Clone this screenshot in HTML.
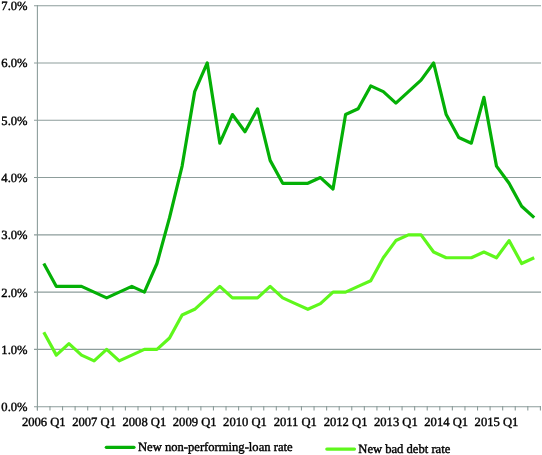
<!DOCTYPE html>
<html><head><meta charset="utf-8"><style>
html,body{margin:0;padding:0;background:#fff;width:542px;height:455px;overflow:hidden;font-family:"Liberation Serif",serif;}
svg{display:block;will-change:transform} text{text-rendering:geometricPrecision;stroke:#000;stroke-width:0.4px}
</style></head><body>
<svg width="542" height="455" viewBox="0 0 542 455">
<line x1="34" y1="349.41" x2="541" y2="349.41" stroke="#8d9d9b" stroke-width="1.1"/>
<line x1="34" y1="292.13" x2="541" y2="292.13" stroke="#8d9d9b" stroke-width="1.1"/>
<line x1="34" y1="234.84" x2="541" y2="234.84" stroke="#8d9d9b" stroke-width="1.1"/>
<line x1="34" y1="177.56" x2="541" y2="177.56" stroke="#8d9d9b" stroke-width="1.1"/>
<line x1="34" y1="120.27" x2="541" y2="120.27" stroke="#8d9d9b" stroke-width="1.1"/>
<line x1="34" y1="62.98" x2="541" y2="62.98" stroke="#8d9d9b" stroke-width="1.1"/>
<line x1="34" y1="5.7" x2="541" y2="5.7" stroke="#8d9d9b" stroke-width="1.1"/>
<line x1="37.4" y1="5" x2="37.4" y2="410.5" stroke="#8d9d9b" stroke-width="1.1"/>
<line x1="34" y1="406.7" x2="541" y2="406.7" stroke="#8d9d9b" stroke-width="1.1"/>
<line x1="37.40" y1="406" x2="37.40" y2="410.5" stroke="#8d9d9b" stroke-width="1.1"/>
<line x1="49.97" y1="406" x2="49.97" y2="410.5" stroke="#8d9d9b" stroke-width="1.1"/>
<line x1="62.55" y1="406" x2="62.55" y2="410.5" stroke="#8d9d9b" stroke-width="1.1"/>
<line x1="75.12" y1="406" x2="75.12" y2="410.5" stroke="#8d9d9b" stroke-width="1.1"/>
<line x1="87.70" y1="406" x2="87.70" y2="410.5" stroke="#8d9d9b" stroke-width="1.1"/>
<line x1="100.28" y1="406" x2="100.28" y2="410.5" stroke="#8d9d9b" stroke-width="1.1"/>
<line x1="112.85" y1="406" x2="112.85" y2="410.5" stroke="#8d9d9b" stroke-width="1.1"/>
<line x1="125.42" y1="406" x2="125.42" y2="410.5" stroke="#8d9d9b" stroke-width="1.1"/>
<line x1="138.00" y1="406" x2="138.00" y2="410.5" stroke="#8d9d9b" stroke-width="1.1"/>
<line x1="150.57" y1="406" x2="150.57" y2="410.5" stroke="#8d9d9b" stroke-width="1.1"/>
<line x1="163.15" y1="406" x2="163.15" y2="410.5" stroke="#8d9d9b" stroke-width="1.1"/>
<line x1="175.72" y1="406" x2="175.72" y2="410.5" stroke="#8d9d9b" stroke-width="1.1"/>
<line x1="188.30" y1="406" x2="188.30" y2="410.5" stroke="#8d9d9b" stroke-width="1.1"/>
<line x1="200.88" y1="406" x2="200.88" y2="410.5" stroke="#8d9d9b" stroke-width="1.1"/>
<line x1="213.45" y1="406" x2="213.45" y2="410.5" stroke="#8d9d9b" stroke-width="1.1"/>
<line x1="226.03" y1="406" x2="226.03" y2="410.5" stroke="#8d9d9b" stroke-width="1.1"/>
<line x1="238.60" y1="406" x2="238.60" y2="410.5" stroke="#8d9d9b" stroke-width="1.1"/>
<line x1="251.17" y1="406" x2="251.17" y2="410.5" stroke="#8d9d9b" stroke-width="1.1"/>
<line x1="263.75" y1="406" x2="263.75" y2="410.5" stroke="#8d9d9b" stroke-width="1.1"/>
<line x1="276.32" y1="406" x2="276.32" y2="410.5" stroke="#8d9d9b" stroke-width="1.1"/>
<line x1="288.90" y1="406" x2="288.90" y2="410.5" stroke="#8d9d9b" stroke-width="1.1"/>
<line x1="301.47" y1="406" x2="301.47" y2="410.5" stroke="#8d9d9b" stroke-width="1.1"/>
<line x1="314.05" y1="406" x2="314.05" y2="410.5" stroke="#8d9d9b" stroke-width="1.1"/>
<line x1="326.62" y1="406" x2="326.62" y2="410.5" stroke="#8d9d9b" stroke-width="1.1"/>
<line x1="339.20" y1="406" x2="339.20" y2="410.5" stroke="#8d9d9b" stroke-width="1.1"/>
<line x1="351.77" y1="406" x2="351.77" y2="410.5" stroke="#8d9d9b" stroke-width="1.1"/>
<line x1="364.35" y1="406" x2="364.35" y2="410.5" stroke="#8d9d9b" stroke-width="1.1"/>
<line x1="376.92" y1="406" x2="376.92" y2="410.5" stroke="#8d9d9b" stroke-width="1.1"/>
<line x1="389.50" y1="406" x2="389.50" y2="410.5" stroke="#8d9d9b" stroke-width="1.1"/>
<line x1="402.07" y1="406" x2="402.07" y2="410.5" stroke="#8d9d9b" stroke-width="1.1"/>
<line x1="414.65" y1="406" x2="414.65" y2="410.5" stroke="#8d9d9b" stroke-width="1.1"/>
<line x1="427.22" y1="406" x2="427.22" y2="410.5" stroke="#8d9d9b" stroke-width="1.1"/>
<line x1="439.80" y1="406" x2="439.80" y2="410.5" stroke="#8d9d9b" stroke-width="1.1"/>
<line x1="452.37" y1="406" x2="452.37" y2="410.5" stroke="#8d9d9b" stroke-width="1.1"/>
<line x1="464.95" y1="406" x2="464.95" y2="410.5" stroke="#8d9d9b" stroke-width="1.1"/>
<line x1="477.52" y1="406" x2="477.52" y2="410.5" stroke="#8d9d9b" stroke-width="1.1"/>
<line x1="490.10" y1="406" x2="490.10" y2="410.5" stroke="#8d9d9b" stroke-width="1.1"/>
<line x1="502.67" y1="406" x2="502.67" y2="410.5" stroke="#8d9d9b" stroke-width="1.1"/>
<line x1="515.25" y1="406" x2="515.25" y2="410.5" stroke="#8d9d9b" stroke-width="1.1"/>
<line x1="527.82" y1="406" x2="527.82" y2="410.5" stroke="#8d9d9b" stroke-width="1.1"/>
<line x1="540.40" y1="406" x2="540.40" y2="410.5" stroke="#8d9d9b" stroke-width="1.1"/>
<polyline points="43.79,332.23 56.36,355.14 68.94,343.69 81.51,355.14 94.09,360.87 106.66,349.41 119.24,360.87 131.81,355.14 144.39,349.41 156.96,349.41 169.54,337.96 182.11,315.04 194.69,309.31 207.26,297.86 219.84,286.40 232.41,297.86 244.99,297.86 257.56,297.86 270.14,286.40 282.71,297.86 295.29,303.59 307.86,309.31 320.44,303.59 333.01,292.13 345.59,292.13 358.16,286.40 370.74,280.67 383.31,257.76 395.89,240.57 408.46,234.84 421.04,234.84 433.61,252.03 446.19,257.76 458.76,257.76 471.34,257.76 483.91,252.03 496.49,257.76 509.06,240.57 521.64,263.49 534.21,257.76" fill="none" stroke="#5ff71c" stroke-width="3.2" stroke-linejoin="round" stroke-linecap="butt"/>
<polyline points="43.79,263.49 56.36,286.40 68.94,286.40 81.51,286.40 94.09,292.13 106.66,297.86 119.24,292.13 131.81,286.40 144.39,292.13 156.96,263.49 169.54,217.66 182.11,166.10 194.69,91.63 207.26,62.98 219.84,143.18 232.41,114.54 244.99,131.73 257.56,108.81 270.14,160.37 282.71,183.28 295.29,183.28 307.86,183.28 320.44,177.56 333.01,189.01 345.59,114.54 358.16,108.81 370.74,85.90 383.31,91.63 395.89,103.08 408.46,91.63 421.04,80.17 433.61,62.98 446.19,114.54 458.76,137.46 471.34,143.18 483.91,97.36 496.49,166.10 509.06,183.28 521.64,206.20 534.21,217.66" fill="none" stroke="#04b006" stroke-width="3.2" stroke-linejoin="round" stroke-linecap="butt"/>
<text x="27.6" y="411.10" text-anchor="end" font-family="Liberation Serif" font-size="12.6" fill="#000">0.0%</text>
<text x="27.6" y="353.81" text-anchor="end" font-family="Liberation Serif" font-size="12.6" fill="#000">1.0%</text>
<text x="27.6" y="296.53" text-anchor="end" font-family="Liberation Serif" font-size="12.6" fill="#000">2.0%</text>
<text x="27.6" y="239.24" text-anchor="end" font-family="Liberation Serif" font-size="12.6" fill="#000">3.0%</text>
<text x="27.6" y="181.96" text-anchor="end" font-family="Liberation Serif" font-size="12.6" fill="#000">4.0%</text>
<text x="27.6" y="124.67" text-anchor="end" font-family="Liberation Serif" font-size="12.6" fill="#000">5.0%</text>
<text x="27.6" y="67.38" text-anchor="end" font-family="Liberation Serif" font-size="12.6" fill="#000">6.0%</text>
<text x="27.6" y="10.10" text-anchor="end" font-family="Liberation Serif" font-size="12.6" fill="#000">7.0%</text>
<text x="43.79" y="425.5" text-anchor="middle" font-family="Liberation Serif" font-size="12.6" fill="#000">2006 Q1</text>
<text x="94.09" y="425.5" text-anchor="middle" font-family="Liberation Serif" font-size="12.6" fill="#000">2007 Q1</text>
<text x="144.39" y="425.5" text-anchor="middle" font-family="Liberation Serif" font-size="12.6" fill="#000">2008 Q1</text>
<text x="194.69" y="425.5" text-anchor="middle" font-family="Liberation Serif" font-size="12.6" fill="#000">2009 Q1</text>
<text x="244.99" y="425.5" text-anchor="middle" font-family="Liberation Serif" font-size="12.6" fill="#000">2010 Q1</text>
<text x="295.29" y="425.5" text-anchor="middle" font-family="Liberation Serif" font-size="12.6" fill="#000">2011 Q1</text>
<text x="345.59" y="425.5" text-anchor="middle" font-family="Liberation Serif" font-size="12.6" fill="#000">2012 Q1</text>
<text x="395.89" y="425.5" text-anchor="middle" font-family="Liberation Serif" font-size="12.6" fill="#000">2013 Q1</text>
<text x="446.19" y="425.5" text-anchor="middle" font-family="Liberation Serif" font-size="12.6" fill="#000">2014 Q1</text>
<text x="496.49" y="425.5" text-anchor="middle" font-family="Liberation Serif" font-size="12.6" fill="#000">2015 Q1</text>
<line x1="106.3" y1="447.3" x2="134" y2="447.3" stroke="#04b006" stroke-width="3.2" stroke-linecap="round"/>
<text x="138" y="451" font-family="Liberation Serif" font-size="12.6" fill="#000">New non-performing-loan rate</text>
<line x1="326.8" y1="449.1" x2="354.5" y2="449.1" stroke="#5ff71c" stroke-width="3.2" stroke-linecap="round"/>
<text x="358.3" y="452.8" font-family="Liberation Serif" font-size="12.6" fill="#000">New bad debt rate</text>
</svg>
</body></html>
